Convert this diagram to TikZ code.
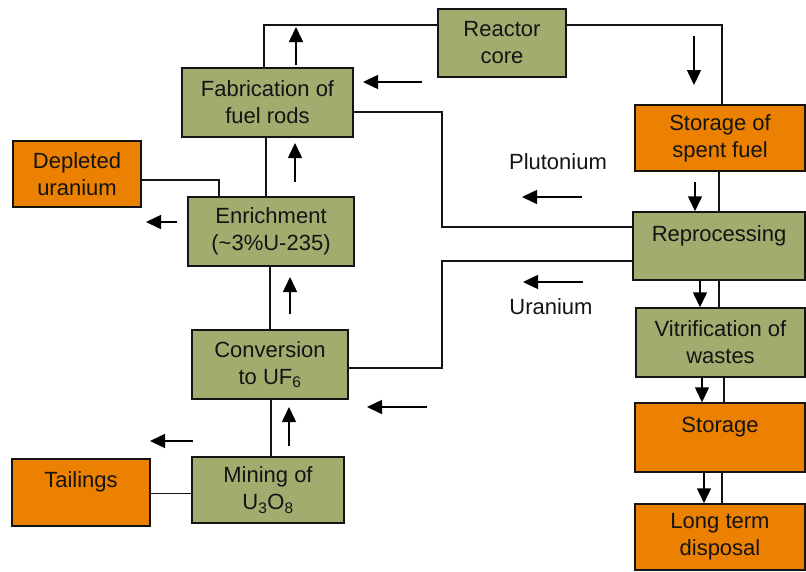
\documentclass[tikz,border=0pt]{standalone}
\usepackage{fontspec}
\setmainfont{Liberation Sans}
\usetikzlibrary{arrows.meta,calc}

\definecolor{boxgreen}{RGB}{161,172,111}
\definecolor{boxorange}{RGB}{236,128,0}
\definecolor{inkgray}{RGB}{20,20,20}

\tikzset{
  stage/.style={draw=inkgray, line width=1.5pt, align=center, inner sep=0pt,
    font=\fontsize{22}{27}\selectfont, text=inkgray},
  green/.style={stage, fill=boxgreen},
  orange/.style={stage, fill=boxorange},
  link/.style={line width=1.3pt, draw=inkgray},
  flow/.style={line width=1.5pt, draw=black, -{Triangle[width=14pt,length=15pt]}},
  tag/.style={font=\fontsize{22}{27}\selectfont, text=inkgray}
}

\begin{document}
\begin{tikzpicture}[x=1pt,y=-1pt]
\useasboundingbox (0,0) rectangle (806,571);

% process stages
\node[green,  minimum width=128pt, minimum height=68pt] (reactor) at (502,43)    {Reactor\\core};
\node[green,  minimum width=171pt, minimum height=69pt] (fab)     at (267.5,102.5) {Fabrication of\\fuel rods};
\node[orange, minimum width=128pt, minimum height=66pt] (depl)    at (77,174)    {Depleted\\uranium};
\node[green,  minimum width=166pt, minimum height=69pt] (enr)     at (271,231.5) {Enrichment\\(\textasciitilde3\%U-235)};
\node[green,  minimum width=156pt, minimum height=69pt] (conv)    at (270,364.5) {Conversion\\to UF\textsubscript{6}};
\node[green,  minimum width=152pt, minimum height=66pt] (mine)    at (268,490)   {Mining of\\U\textsubscript{3}O\textsubscript{8}};
\node[orange, minimum width=138pt, minimum height=67pt] (tail)    at (81,492.5)  {Tailings\\[-10pt]\strut};
\node[orange, minimum width=170pt, minimum height=66pt] (spent)   at (720,138)   {Storage of\\spent fuel};
\node[green,  minimum width=172pt, minimum height=68pt] (repro)   at (719,246)   {Reprocessing\\[-10pt]\strut};
\node[green,  minimum width=169pt, minimum height=69pt] (vitri)   at (720.5,342.5) {Vitrification of\\wastes};
\node[orange, minimum width=170pt, minimum height=69pt] (stor)    at (720,437.5) {Storage\\[-10pt]\strut};
\node[orange, minimum width=170pt, minimum height=66pt] (ltd)     at (720,537)   {Long term\\disposal};

% recycled streams
\node[tag] (pu) at (558,162) {Plutonium};
\node[tag] (u)  at (551,307) {Uranium};

% connecting lines
\draw[link] ([yshift=18pt]reactor.west) -| ([xshift=-3.5pt]fab.north);
\draw[link] ([yshift=18pt]reactor.east) -| ([xshift=2pt]spent.north);
\draw[link] ([yshift=-9.5pt]fab.east) -| (442,170) |- ([yshift=19pt]repro.west);
\draw[link] ([yshift=-15pt]repro.west) -| (442,300) |- ([yshift=-3.5pt]conv.east);
\draw[link] ([xshift=-1pt]spent.south) -- ([xshift=-1pt]spent.south |- repro.north);
\draw[link] (repro.south) -- (repro.south |- vitri.north);
\draw[link] ([xshift=3.5pt]vitri.south) -- ([xshift=3.5pt]vitri.south |- stor.north);
\draw[link] ([xshift=2pt]stor.south) -- ([xshift=2pt]stor.south |- ltd.north);
\draw[link] ([xshift=-1.5pt]fab.south) -- ([xshift=-1.5pt]fab.south |- enr.north);
\draw[link] ([yshift=-6pt]depl.east) -| ([xshift=-52pt]enr.north);
\draw[link] ([xshift=-1pt]enr.south) -- ([xshift=-1pt]enr.south |- conv.north);
\draw[link] ([xshift=1pt]conv.south) -- ([xshift=1pt]conv.south |- mine.north);
\draw[link] ([yshift=-1pt]tail.east) -- ([yshift=-1pt]tail.east -| mine.west);

% flow direction arrows
\coordinate (a1s) at (296,65);   \coordinate (a1e) at (296,27);
\coordinate (a2s) at (422,82);   \coordinate (a2e) at (363,82);
\coordinate (a3s) at (694,36);   \coordinate (a3e) at (694,85);
\coordinate (a4s) at (582,197);  \coordinate (a4e) at (522,197);
\coordinate (a5s) at (583,282);  \coordinate (a5e) at (523,282);
\coordinate (a6s) at (427,407);  \coordinate (a6e) at (367,407);
\coordinate (a11s) at (295,182); \coordinate (a11e) at (295,143);
\coordinate (a12s) at (177,222); \coordinate (a12e) at (146,222);
\coordinate (a13s) at (290,314); \coordinate (a13e) at (290,277);
\coordinate (a14s) at (289,446); \coordinate (a14e) at (289,407);
\coordinate (a15s) at (193,441); \coordinate (a15e) at (150,441);

\foreach \a in {1,2,3,4,5,6,11,12,13,14,15}
  \draw[flow] (a\a s) -- (a\a e);

\draw[flow] ([xshift=-25pt]spent.south) ++(0,-10pt) -- ([xshift=-24pt]repro.north);
\draw[flow] ([xshift=-19pt]repro.south) -- ([xshift=-19pt]repro.south |- vitri.north);
\draw[flow] ([xshift=-18.5pt]vitri.south) -- ([xshift=-18.5pt]vitri.south |- stor.north);
\draw[flow] ([xshift=-16pt]stor.south) -- ([xshift=-16pt]stor.south |- ltd.north);
\end{tikzpicture}
\end{document}
